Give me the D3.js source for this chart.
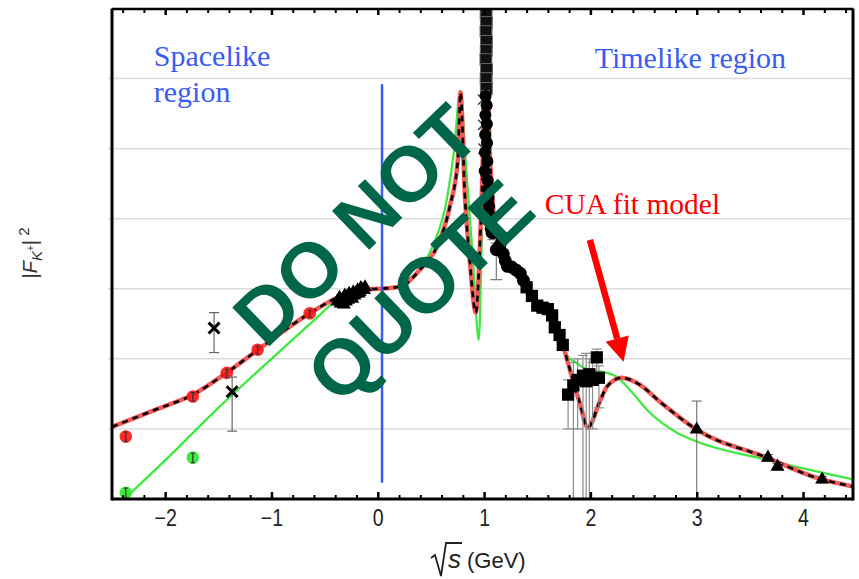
<!DOCTYPE html>
<html>
<head>
<meta charset="utf-8">
<script src="https://cdn.jsdelivr.net/npm/d3@7/dist/d3.min.js"></script>
<style>
  html, body { margin: 0; padding: 0; background: #fff; }
  svg { display: block; }
</style>
</head>
<body>
<svg id="chart" width="859" height="579"></svg>
<script>
// ---- axis ticks ----
const xTicks = [-2, -1, 0, 1, 2, 3, 4];
const xTickLabels = ["\u22122", "\u22121", "0", "1", "2", "3", "4"];
const yGrid = [1e-2, 1e-1, 1, 1e1, 1e2, 1e3];

// ---- CUA fit model (red / black dashed) ----
const cuaX = [-2.5, -2.1, -1.737, -1.423, -1.126, -0.64, -0.357, -0.141, 0, 0.207, 0.395, 0.555, 0.677, 0.753, 0.778, 0.818, 0.865, 0.922, 0.96, 0.99, 1.005, 1.019, 1.033, 1.05, 1.075, 1.11, 1.176, 1.27, 1.383, 1.496, 1.618, 1.693, 1.76, 1.834, 1.90, 1.976, 2.088, 2.154, 2.295, 2.465, 2.653, 3.0, 3.66, 4.13, 4.47];
const cuaY = [0.0107, 0.0186, 0.0309, 0.0631, 0.135, 0.447, 0.776, 0.977, 1.0, 1.07, 1.86, 3.98, 14.8, 69.2, 631, 23.4, 2.57, 0.457, 3.98, 100, 1585, 19950, 1585, 126, 22.4, 6.92, 3.09, 2.04, 1.23, 0.631, 0.468, 0.263, 0.126, 0.0501, 0.0234, 0.0105, 0.0245, 0.0398, 0.0537, 0.0427, 0.0245, 0.00977, 0.00389, 0.0020, 0.00151];

// ---- second model (green) ----
const grnX = [-2.42, -2.0, -1.5, -1.0, -0.6, -0.36, -0.2, 0, 0.207, 0.395, 0.52, 0.649, 0.72, 0.775, 0.83, 0.90, 0.95, 0.975, 0.995, 1.008, 1.019, 1.031, 1.048, 1.075, 1.11, 1.176, 1.27, 1.383, 1.496, 1.618, 1.693, 1.76, 1.87, 1.99, 2.09, 2.25, 2.37, 2.56, 2.81, 3.0, 3.66, 4.47];
const grnY = [0.00089, 0.00355, 0.020, 0.1, 0.355, 0.741, 0.933, 1.0, 1.07, 1.91, 4.17, 18.6, 100, 676, 56, 2.0, 0.186, 3.16, 100, 1585, 19950, 1585, 126, 22.4, 6.92, 3.09, 2.04, 1.23, 0.631, 0.468, 0.263, 0.123, 0.0871, 0.0692, 0.0661, 0.0550, 0.0363, 0.0170, 0.00891, 0.00661, 0.00363, 0.00191];

// ---- spacelike data ----
const redX = [-2.37, -1.74, -1.42, -1.13, -0.64];
const redY = [0.0078, 0.029, 0.063, 0.135, 0.447];
const redErr = [0.0012, 0.004, 0.008, 0.017, 0.05];
const greenPtX = [-2.37, -1.74];
const greenPtY = [0.00123, 0.0039];
const greenPtErr = [0.0002, 0.0006];
const crossX = [-1.54, -1.37];
const crossY = [0.275, 0.034];
const crossLo = [0.123, 0.0093];
const crossHi = [0.457, 0.055];
const slTriX = [-0.38, -0.36, -0.35, -0.33, -0.32, -0.31, -0.30, -0.29, -0.28, -0.27, -0.25, -0.24, -0.23, -0.22, -0.21, -0.19, -0.18, -0.17, -0.16, -0.15, -0.13, -0.12];
const slTriY = [0.66, 0.74, 0.62, 0.70, 0.60, 0.80, 0.66, 0.76, 0.70, 0.85, 0.80, 0.72, 0.89, 0.80, 0.85, 0.95, 0.86, 0.90, 1.02, 0.98, 0.96, 1.05];

// ---- timelike data ----
const phiSqX = [1.019, 1.021, 1.018, 1.022, 1.02, 1.017, 1.023, 1.019, 1.021];
const phiSqY = [8510, 6310, 4680, 3390, 2510, 1860, 1350, 1000, 724];
const phiCrossX = [0.99, 0.992, 0.995];
const phiCrossY = [501, 219, 100];
const phiCircX = [1.014, 1.024, 1.012, 1.026, 1.01, 1.028, 1.008, 1.031, 1.005, 1.034, 1.038, 1.042, 1.046, 1.05, 1.056, 1.062, 1.07];
const phiCircY = [562, 417, 302, 224, 158, 120, 89, 66, 48, 35.5, 26.3, 20, 15.1, 11.5, 8.9, 7.2, 6.3];
const tlCircX = [1.08, 1.115, 1.148, 1.18, 1.20, 1.22, 1.26, 1.30, 1.34, 1.37];
const tlCircY = [6.31, 3.63, 4.17, 3.16, 2.51, 2.09, 2.04, 1.86, 1.66, 1.32];
const tlSqX = [1.40, 1.45, 1.50, 1.55, 1.60, 1.64, 1.665, 1.71, 1.74];
const tlSqY = [1.05, 0.79, 0.575, 0.537, 0.513, 0.417, 0.282, 0.219, 0.158];
const clX = [1.79, 1.84, 1.88, 1.93, 1.96, 1.99, 2.02, 2.06, 2.08];
const clY = [0.0309, 0.0417, 0.0501, 0.0575, 0.0479, 0.0603, 0.0501, 0.105, 0.0537];
const clLo = [0.01, 0.00063, 0.01, 0.00063, 0.00063, 0.00063, 0.01, 0.0562, 0.02];
const clHi = [0.0501, 0.0891, 0.1, 0.112, 0.120, 0.1, 0.0891, 0.138, 0.0794];
const tlTriX = [3.0, 3.67, 3.76, 4.18];
const tlTriY = [0.0098, 0.0039, 0.0029, 0.0019];
const tlTriLo = [0.0006, 0.0035, 0.0026, 0.0017];
const tlTriHi = [0.025, 0.0043, 0.0032, 0.0021];

// ---- layout ----
const L = 112, R = 853, T = 8.5, B = 499;
const svg = d3.select("#chart");
const x = d3.scaleLinear().domain([-2.5, 4.47]).range([L, R]);
const y = d3.scaleLog().domain([1e-3, 1e4]).range([B, T]);

svg.append("defs").append("clipPath").attr("id", "plotclip")
  .append("rect").attr("x", L).attr("y", T).attr("width", R - L).attr("height", B - T);

// grid
svg.append("g").selectAll("line").data(yGrid).join("line")
  .attr("x1", L - 4).attr("x2", R)
  .attr("y1", d => y(d)).attr("y2", d => y(d))
  .attr("stroke", "#dcdcdc").attr("stroke-width", 1.5);

const plot = svg.append("g").attr("clip-path", "url(#plotclip)");
const line = d3.line().x(d => x(d[0])).y(d => y(d[1])).curve(d3.curveMonotoneX);
const cua = d3.zip(cuaX, cuaY);
const grn = d3.zip(grnX, grnY);

plot.append("path").attr("d", line(grn)).attr("fill", "none")
  .attr("stroke", "#3fe83f").attr("stroke-width", 2.3);
plot.append("path").attr("d", line(cua)).attr("fill", "none")
  .attr("stroke", "#f55a5a").attr("stroke-width", 4.5);
plot.append("path").attr("d", line(cua)).attr("fill", "none")
  .attr("stroke", "#000").attr("stroke-width", 2.6).attr("stroke-dasharray", "6,5");

// spacelike / timelike divider
svg.append("line")
  .attr("x1", x(0.04)).attr("x2", x(0.04))
  .attr("y1", y(830)).attr("y2", y(0.0017))
  .attr("stroke", "#3a5cf0").attr("stroke-width", 2.5);

// error bar helper
function errBars(g, xs, lo, hi, color, cap) {
  const d = d3.zip(xs, lo, hi);
  g.append("g").selectAll("line").data(d).join("line")
    .attr("x1", v => x(v[0])).attr("x2", v => x(v[0]))
    .attr("y1", v => y(v[1])).attr("y2", v => y(v[2]))
    .attr("stroke", color).attr("stroke-width", 1.2);
  [1, 2].forEach(k => {
    g.append("g").selectAll("line").data(d).join("line")
      .attr("x1", v => x(v[0]) - cap).attr("x2", v => x(v[0]) + cap)
      .attr("y1", v => y(v[k])).attr("y2", v => y(v[k]))
      .attr("stroke", color).attr("stroke-width", 1.2);
  });
}

const pts = svg.append("g").attr("clip-path", "url(#plotclip)");

// phi-region column
errBars(pts, phiSqX, phiSqY.map(v => v * 0.85), phiSqY.map(v => v * 1.15), "#777", 4);
pts.append("g").selectAll("path").data(d3.zip(phiSqX, phiSqY)).join("path")
  .attr("transform", d => `translate(${x(d[0])},${y(d[1])})`)
  .attr("d", d3.symbol(d3.symbolSquare, 140)())
  .attr("fill", "#111").attr("stroke", "#666").attr("stroke-width", 1);
pts.append("g").selectAll("path").data(d3.zip(phiCrossX, phiCrossY)).join("path")
  .attr("transform", d => `translate(${x(d[0])},${y(d[1])})`)
  .attr("d", d3.symbol(d3.symbolX, 70)())
  .attr("fill", "none").attr("stroke", "#444").attr("stroke-width", 1.5);
errBars(pts, phiCircX, phiCircY.map(v => v * 0.8), phiCircY.map(v => v * 1.2), "#777", 4);
pts.append("g").selectAll("circle").data(d3.zip(phiCircX, phiCircY)).join("circle")
  .attr("cx", d => x(d[0])).attr("cy", d => y(d[1])).attr("r", 6)
  .attr("fill", "#000");

// timelike circles and squares
errBars(pts, [1.115], [1.35], [4.5], "#777", 6);
pts.append("g").selectAll("circle").data(d3.zip(tlCircX, tlCircY)).join("circle")
  .attr("cx", d => x(d[0])).attr("cy", d => y(d[1])).attr("r", 6.5)
  .attr("fill", "#000");
pts.append("g").selectAll("path").data(d3.zip(tlSqX, tlSqY)).join("path")
  .attr("transform", d => `translate(${x(d[0])},${y(d[1])})`)
  .attr("d", d3.symbol(d3.symbolSquare, 150)())
  .attr("fill", "#000");
errBars(pts, clX, clLo, clHi, "#8a8a8a", 5);
pts.append("g").selectAll("path").data(d3.zip(clX, clY)).join("path")
  .attr("transform", d => `translate(${x(d[0])},${y(d[1])})`)
  .attr("d", d3.symbol(d3.symbolSquare, 150)())
  .attr("fill", "#000");

// high-energy triangles
errBars(pts, tlTriX, tlTriLo, tlTriHi, "#777", 5);
pts.append("g").selectAll("path").data(d3.zip(tlTriX, tlTriY)).join("path")
  .attr("transform", d => `translate(${x(d[0])},${y(d[1])})`)
  .attr("d", d3.symbol(d3.symbolTriangle, 85)())
  .attr("fill", "#000");

// spacelike triangles near zero
pts.append("g").selectAll("path").data(d3.zip(slTriX, slTriY)).join("path")
  .attr("transform", d => `translate(${x(d[0])},${y(d[1])})`)
  .attr("d", d3.symbol(d3.symbolTriangle, 85)())
  .attr("fill", "#000");

// spacelike circles
function circles(xs, ys, errs, fill) {
  pts.append("g").selectAll("circle").data(d3.zip(xs, ys)).join("circle")
    .attr("cx", d => x(d[0])).attr("cy", d => y(d[1])).attr("r", 6.3)
    .attr("fill", fill).attr("fill-opacity", 0.92);
  errBars(pts, xs, ys.map((v, i) => v - errs[i]), ys.map((v, i) => v + errs[i]), "#333", 2);
}
circles(redX, redY, redErr, "#ff1a1a");
circles(greenPtX, greenPtY, greenPtErr, "#2ee82e");

// spacelike crosses
errBars(pts, crossX, crossLo, crossHi, "#666", 5);
pts.append("g").selectAll("path").data(d3.zip(crossX, crossY)).join("path")
  .attr("transform", d => `translate(${x(d[0])},${y(d[1])})`)
  .attr("d", d3.symbol(d3.symbolX, 80)())
  .attr("fill", "none").attr("stroke", "#000").attr("stroke-width", 3);

// ---- axes frame ----
const frame = svg.append("g");
frame.append("line").attr("x1", L).attr("x2", L).attr("y1", T).attr("y2", B + 1.5)
  .attr("stroke", "#000").attr("stroke-width", 3);
frame.append("line").attr("x1", R).attr("x2", R).attr("y1", T).attr("y2", B + 1.5)
  .attr("stroke", "#000").attr("stroke-width", 3);
frame.append("line").attr("x1", L).attr("x2", R).attr("y1", B).attr("y2", B)
  .attr("stroke", "#000").attr("stroke-width", 3);
frame.append("line").attr("x1", L).attr("x2", R).attr("y1", T + 0.5).attr("y2", T + 0.5)
  .attr("stroke", "#000").attr("stroke-width", 2.5);

const minor = d3.range(-2.4, 4.47, 0.2).map(v => Math.round(v * 10) / 10)
  .filter(v => Math.abs(v - Math.round(v)) > 1e-6);
const bottomAxis = d3.axisBottom(x).tickValues(xTicks).tickSize(-7)
  .tickFormat((d, i) => xTickLabels[i]).tickPadding(11);
const gx = svg.append("g").attr("transform", `translate(0,${B})`).call(bottomAxis);
gx.select(".domain").remove();
gx.selectAll(".tick line").attr("stroke", "#000").attr("stroke-width", 2.5);
// condensed tick labels, still centred on their ticks
gx.selectAll(".tick text")
  .attr("font-family", "'Liberation Sans', Arial, sans-serif")
  .attr("font-size", 23).attr("fill", "#222")
  .attr("transform", "scale(0.85,1)");
const gxm = svg.append("g").attr("transform", `translate(0,${B})`)
  .call(d3.axisBottom(x).tickValues(minor).tickSize(-4).tickFormat(""));
gxm.select(".domain").remove();
gxm.selectAll(".tick line").attr("stroke", "#000").attr("stroke-width", 2);

const gt = svg.append("g").attr("transform", `translate(0,${T + 0.5})`)
  .call(d3.axisTop(x).tickValues(xTicks).tickSize(-6).tickFormat(""));
gt.select(".domain").remove();
gt.selectAll(".tick line").attr("stroke", "#000").attr("stroke-width", 2.5);
const gtm = svg.append("g").attr("transform", `translate(0,${T + 0.5})`)
  .call(d3.axisTop(x).tickValues(minor).tickSize(-4).tickFormat(""));
gtm.select(".domain").remove();
gtm.selectAll(".tick line").attr("stroke", "#000").attr("stroke-width", 2);

// ---- axis titles ----
// "√s (GeV)": radical sign drawn as a path around the italic s
const xt = svg.append("text").attr("x", 448).attr("y", 568)
  .attr("font-family", "'Liberation Sans', Arial, sans-serif")
  .attr("font-size", 22).attr("fill", "#222");
xt.append("tspan").attr("font-style", "italic").attr("font-size", 26).text("s");
xt.append("tspan").attr("dx", 6).text("(GeV)");
const sBox = xt.node().getExtentOfChar(0);
const rx0 = sBox.x - 2, rTop = 568 - 25;
svg.append("path")
  .attr("d", `M${rx0 - 15},${568 - 10} L${rx0 - 11},${568 - 13} L${rx0 - 5},${568 + 8} L${rx0},${rTop} L${sBox.x + sBox.width + 1},${rTop}`)
  .attr("fill", "none").attr("stroke", "#222").attr("stroke-width", 1.8)
  .attr("stroke-linejoin", "miter");

const yt = svg.append("text").attr("transform", "translate(37,253) rotate(-90)")
  .attr("text-anchor", "middle")
  .attr("font-family", "'Liberation Sans', Arial, sans-serif").attr("font-size", 20).attr("fill", "#333");
yt.append("tspan").text("|");
yt.append("tspan").attr("font-style", "italic").text("F");
yt.append("tspan").attr("font-style", "italic").attr("font-size", 15).attr("dy", 5).text("K");
yt.append("tspan").attr("font-size", 10).attr("dy", -8).text("+");
yt.append("tspan").attr("dy", 3).text("|");
yt.append("tspan").attr("font-size", 15).attr("dy", -8).text(" 2");

// ---- annotations ----
const serif = "'Liberation Serif', 'Times New Roman', serif";
svg.append("text").attr("x", x(-2.107)).attr("y", y(1510)).attr("font-family", serif)
  .attr("font-size", 30).attr("fill", "#3a5cf0").text("Spacelike");
svg.append("text").attr("x", x(-2.107)).attr("y", y(468)).attr("font-family", serif)
  .attr("font-size", 30).attr("fill", "#3a5cf0").text("region");
svg.append("text").attr("x", x(2.04)).attr("y", y(1410)).attr("font-family", serif)
  .attr("font-size", 30).attr("fill", "#3a5cf0").text("Timelike region");
svg.append("text").attr("x", x(1.571)).attr("y", y(11.7)).attr("font-family", serif)
  .attr("font-size", 29.5).attr("fill", "#ff0000").text("CUA fit model");

// arrow pointing at the high-mass bump
const ax0 = x(1.995), ay0 = y(5.0), ax1 = x(2.312), ay1 = y(0.091);
const ang = Math.atan2(ay1 - ay0, ax1 - ax0);
const headLen = 24, headHalf = 12;
const bx = ax1 - headLen * Math.cos(ang), by = ay1 - headLen * Math.sin(ang);
svg.append("line").attr("x1", ax0).attr("y1", ay0).attr("x2", bx).attr("y2", by)
  .attr("stroke", "#ff0000").attr("stroke-width", 6.5);
svg.append("path")
  .attr("d", `M${ax1},${ay1} L${bx + headHalf * Math.sin(ang)},${by - headHalf * Math.cos(ang)} L${bx - headHalf * Math.sin(ang)},${by + headHalf * Math.cos(ang)} Z`)
  .attr("fill", "#ff0000");

// ---- watermark ----
const wm = svg.append("g").attr("transform", "translate(388,258) rotate(-44)")
  .attr("font-family", "'Liberation Sans', Arial, sans-serif").attr("font-weight", "bold")
  .attr("font-size", 78).attr("fill", "#00664a").attr("text-anchor", "middle");
wm.append("text").attr("x", 0).attr("y", -46).attr("dominant-baseline", "central").text("DO NOT");
wm.append("text").attr("x", 0).attr("y", 46).attr("dominant-baseline", "central").text("QUOTE");
</script>
</body>
</html>
